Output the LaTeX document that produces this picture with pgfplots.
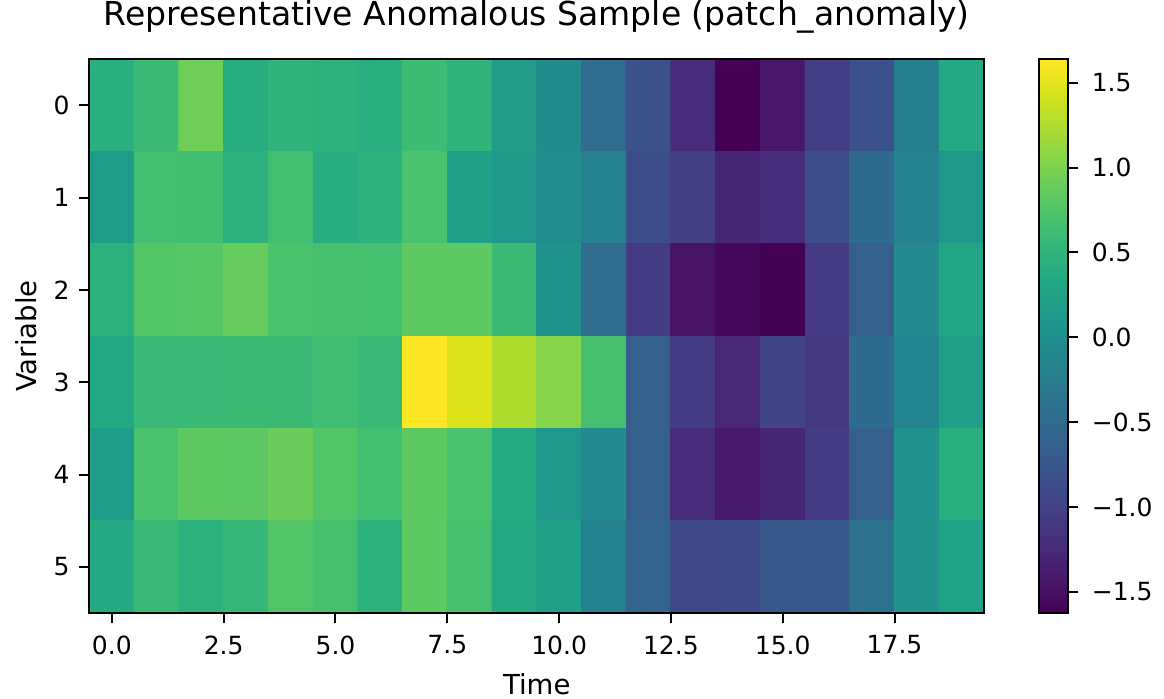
\documentclass[border=0pt]{standalone}
\usepackage{fontspec}
\setmainfont{DejaVu Sans}
\usepackage{pgfplots}
\pgfplotsset{compat=1.18}
\usepackage{pgfplotstable}
\pgfplotstableread{
x y z
0 0 0.43
1 0 0.60
2 0 0.92
3 0 0.40
4 0 0.50
5 0 0.48
6 0 0.42
7 0 0.62
8 0 0.50
9 0 0.17
10 0 -0.05
11 0 -0.48
12 0 -0.81
13 0 -1.23
14 0 -1.625
15 0 -1.43
16 0 -1.04
17 0 -0.82
18 0 -0.22
19 0 0.34
0 1 0.15
1 1 0.66
2 1 0.64
3 1 0.45
4 1 0.65
5 1 0.40
6 1 0.47
7 1 0.70
8 1 0.24
9 1 0.12
10 1 -0.03
11 1 -0.20
12 1 -0.85
13 1 -1.02
14 1 -1.28
15 1 -1.20
16 1 -0.85
17 1 -0.50
18 1 -0.18
19 1 0.12
0 2 0.45
1 2 0.77
2 2 0.78
3 2 0.88
4 2 0.70
5 2 0.68
6 2 0.67
7 2 0.83
8 2 0.83
9 2 0.60
10 2 0.05
11 2 -0.48
12 2 -1.05
13 2 -1.46
14 2 -1.56
15 2 -1.62
16 2 -1.08
17 2 -0.65
18 2 -0.08
19 2 0.30
0 3 0.33
1 3 0.58
2 3 0.58
3 3 0.60
4 3 0.60
5 3 0.63
6 3 0.58
7 3 1.64
8 3 1.47
9 3 1.25
10 3 1.05
11 3 0.68
12 3 -0.65
13 3 -1.05
14 3 -1.27
15 3 -0.97
16 3 -1.10
17 3 -0.50
18 3 -0.14
19 3 0.20
0 4 0.18
1 4 0.70
2 4 0.83
3 4 0.82
4 4 0.90
5 4 0.76
6 4 0.65
7 4 0.83
8 4 0.70
9 4 0.37
10 4 0.10
11 4 -0.08
12 4 -0.65
13 4 -1.22
14 4 -1.40
15 4 -1.28
16 4 -1.05
17 4 -0.65
18 4 0.02
19 4 0.42
0 5 0.35
1 5 0.58
2 5 0.47
3 5 0.55
4 5 0.76
5 5 0.68
6 5 0.47
7 5 0.83
8 5 0.68
9 5 0.35
10 5 0.22
11 5 -0.17
12 5 -0.58
13 5 -0.92
14 5 -0.90
15 5 -0.73
16 5 -0.75
17 5 -0.40
18 5 0.03
19 5 0.25
}\heatdata
\begin{document}
\begin{tikzpicture}
\useasboundingbox (-35.8pt,-34pt) rectangle (429.8pt,245.2pt);
\begin{axis}[
  scale only axis,
  width=357.8pt, height=221.6pt,
  xmin=-0.5, xmax=19.5, ymin=-0.5, ymax=5.5,
  y dir=reverse,
  axis on top,
  axis line style={line width=0.8pt},
  every tick/.style={black, line width=0.8pt},
  tick align=outside,
  major tick length=4pt,
  xtick={0,2.5,...,17.5},
  ytick={0,1,2,3,4,5},
  xtick pos=bottom, ytick pos=left,
  /pgf/number format/assume math mode=true,
  xticklabel style={font=\fontsize{10}{12}\selectfont, inner sep=0pt, /pgf/number format/fixed, /pgf/number format/fixed zerofill, /pgf/number format/precision=1},
  yticklabel style={font=\fontsize{10}{12}\selectfont, inner sep=0pt},
  xticklabel shift=4.8pt,
  yticklabel shift=3.8pt,
  title={Representative Anomalous Sample (patch\_anomaly)},
  title style={font=\fontsize{13.2}{15}\selectfont, at={(axis description cs:0.5,1)}, anchor=base, inner sep=0pt, yshift=7.6pt},
  xlabel={Time},
  xlabel style={font=\fontsize{11}{13}\selectfont, at={(axis description cs:0.5,0)}, anchor=base, inner sep=0pt, yshift=-32.4pt},
  ylabel={Variable},
  ylabel style={font=\fontsize{11}{13}\selectfont, at={(axis description cs:-0.0587,0.5)}, anchor=base, inner sep=0pt},
  colormap/viridis,
  point meta min=-1.625, point meta max=1.64,
  colorbar,
  colorbar style={
    width=11.6pt,
    at={(parent axis.north east)}, anchor=north west, xshift=13.6pt,
    ytick={-1.5,-1,-0.5,0,0.5,1,1.5},
    yticklabels={−1.5,−1.0,−0.5,0.0,0.5,1.0,1.5},
    ytick pos=right,
    tick align=outside,
    major tick length=4pt,
    axis line style={line width=0.8pt},
    every tick/.style={black, line width=0.8pt},
    yticklabel style={font=\fontsize{10}{12}\selectfont, inner sep=0pt},
    yticklabel shift=5.2pt,
  },
]
\addplot[matrix plot*, mesh/cols=20, mesh/rows=6, point meta=explicit] table[x=x, y=y, meta=z] {\heatdata};
\end{axis}
\end{tikzpicture}
\end{document}
